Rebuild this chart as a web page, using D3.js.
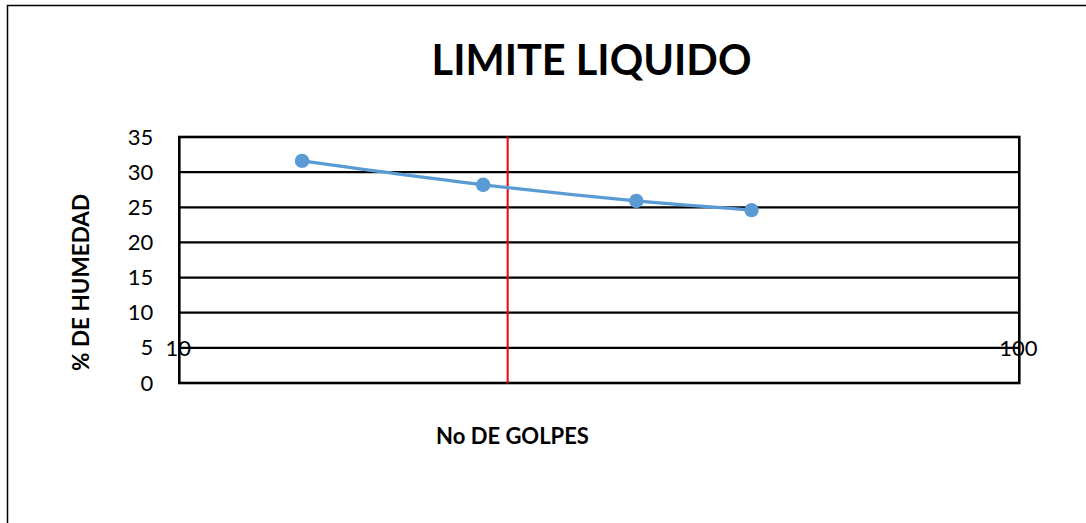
<!DOCTYPE html>
<html><head><meta charset="utf-8">
<script src="https://cdn.jsdelivr.net/npm/d3@7"></script>
<style>html,body{margin:0;padding:0;background:#fff;}svg{display:block;}</style>
</head><body>
<script>
const golpes = [14, 23, 35, 48];
const humedad = [31.6, 28.2, 25.9, 24.6];
const yTicks = [0, 5, 10, 15, 20, 25, 30, 35];
const xTicks = [10, 100];
const redLineX = 24.6;
const title = "LIMITE LIQUIDO";
const xTitle = "No DE GOLPES";
const yTitle = "% DE HUMEDAD";

const W = 1086, H = 523;
const m = {left: 179.3, right: 1019.3, top: 137, bottom: 383};
const svg = d3.select("body").append("svg").attr("width", W).attr("height", H);
const font = "Lato, 'Liberation Sans', sans-serif";

// outer chart border (extends beyond frame)
svg.append("rect").attr("x", 7.5).attr("y", 5.5).attr("width", W + 20).attr("height", H + 20)
  .attr("fill", "none").attr("stroke", "#000").attr("stroke-width", 1.5);

const x = d3.scaleLog().domain([10, 100]).range([m.left, m.right]);
const y = d3.scaleLinear().domain([0, 35]).range([m.bottom, m.top]);

// gridlines
svg.append("g").selectAll("line").data(yTicks.filter(d => d > 0)).join("line")
  .attr("x1", m.left).attr("x2", m.right)
  .attr("y1", d => y(d)).attr("y2", d => y(d))
  .attr("stroke", "#000").attr("stroke-width", 2.2);

// y axis labels
const yAxis = d3.axisLeft(y).tickValues(yTicks).tickSize(0).tickPadding(26);
const gy = svg.append("g").attr("transform", `translate(${m.left},0)`).call(yAxis);
gy.select(".domain").remove();
gy.selectAll("text").attr("font-family", font).attr("font-size", 22).attr("fill", "#000");

// plot border
svg.append("rect").attr("x", m.left).attr("y", m.top).attr("width", m.right - m.left).attr("height", m.bottom - m.top)
  .attr("fill", "none").attr("stroke", "#000").attr("stroke-width", 2.6);

// red vertical line
svg.append("line").attr("x1", x(redLineX)).attr("x2", x(redLineX))
  .attr("y1", m.top).attr("y2", m.bottom).attr("stroke", "#ff0000").attr("stroke-width", 2);

// x axis labels, positioned at y=5 level
const xAxis = d3.axisBottom(x).tickValues(xTicks).tickFormat(d3.format("d")).tickSize(0).tickPadding(0);
const gx = svg.append("g").attr("transform", `translate(-1.5,${y(5)})`).call(xAxis);
gx.select(".domain").remove();
gx.selectAll("text").attr("font-family", font).attr("font-size", 22).attr("fill", "#000")
  .attr("dy", "0.35em").attr("y", 0);

// series line
const data = golpes.map((g, i) => ({g, h: humedad[i]}));
const line = d3.line().x(d => x(d.g)).y(d => y(d.h)).curve(d3.curveCatmullRom.alpha(0.5));
svg.append("path").datum(data).attr("d", line).attr("fill", "none")
  .attr("stroke", "#5B9BD5").attr("stroke-width", 3.2);
svg.append("g").selectAll("circle").data(data).join("circle")
  .attr("cx", d => x(d.g)).attr("cy", d => y(d.h)).attr("r", 7.2).attr("fill", "#5B9BD5");

// titles
svg.append("text").attr("x", 591.5).attr("y", 75).attr("text-anchor", "middle")
  .attr("font-family", font).attr("font-weight", "bold").attr("font-size", 41.5).text(title);
svg.append("text").attr("x", 512.5).attr("y", 444).attr("text-anchor", "middle")
  .attr("font-family", font).attr("font-weight", "bold").attr("font-size", 22).text(xTitle);
svg.append("text").attr("transform", "translate(89,282.5) rotate(-90)").attr("text-anchor", "middle")
  .attr("font-family", font).attr("font-weight", "bold").attr("font-size", 22.5).text(yTitle);
</script>
</body></html>
